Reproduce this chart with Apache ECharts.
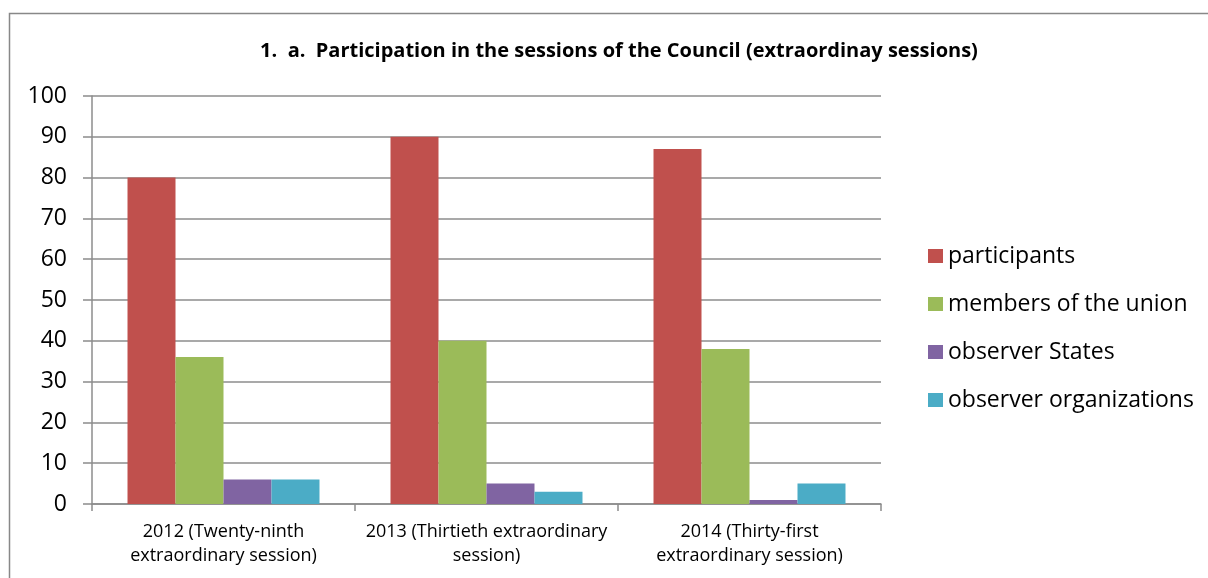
<!DOCTYPE html>
<html>
<head>
<meta charset="utf-8">
<script src="https://cdn.jsdelivr.net/npm/echarts@6/dist/echarts.min.js"></script>
<style>html,body{margin:0;padding:0;background:#fff}#c{width:1208px;height:578px}</style>
</head>
<body>
<div id="c"></div>
<script>
const categories = ["2012 (Twenty-ninth\nextraordinary session)", "2013 (Thirtieth extraordinary\nsession)", "2014 (Thirty-first\nextraordinary session)"];
const seriesNames = ["participants", "members of the union", "observer States", "observer organizations"];
const participants = [80, 90, 87];
const members = [36, 40, 38];
const observerStates = [6, 5, 1];
const observerOrgs = [6, 3, 5];
const colors = ["#C0504D", "#9BBB59", "#8064A2", "#4BACC6"];
const FONT = "'Open Sans', 'Noto Sans', sans-serif";

const chart = echarts.init(document.getElementById('c'), null, {renderer: 'canvas'});
const dataSets = [participants, members, observerStates, observerOrgs];
chart.setOption({
  animation: false,
  backgroundColor: '#fff',
  title: {
    text: '1.  a.  Participation in the sessions of the Council (extraordinay sessions)',
    left: 614, textAlign: 'center', top: 36,
    textStyle: {fontFamily: FONT, fontSize: 20, fontWeight: 'bold', color: '#000'}
  },
  legend: {
    orient: 'vertical', left: 923, top: 239,
    itemWidth: 15, itemHeight: 14, itemGap: 24,
    icon: 'rect',
    textStyle: {fontFamily: FONT, fontSize: 23, color: '#000', lineHeight: 24},
    data: seriesNames
  },
  grid: {left: 92, right: 327, top: 96, bottom: 74, containLabel: false},
  xAxis: {
    type: 'category', data: categories,
    axisLine: {lineStyle: {color: '#8c8c8c', width: 1.5}},
    axisTick: {show: true, length: 7, inside: false, lineStyle: {color: '#8c8c8c', width: 1.5}},
    axisLabel: {fontFamily: FONT, fontSize: 18, color: '#000', lineHeight: 24, margin: 16, interval: 0}
  },
  yAxis: {
    type: 'value', min: 0, max: 100, interval: 10,
    axisLine: {show: true, lineStyle: {color: '#8c8c8c', width: 1.5}},
    axisTick: {show: true, length: 9, lineStyle: {color: '#8c8c8c', width: 1.5}},
    splitLine: {lineStyle: {color: '#8c8c8c', width: 1.5}},
    axisLabel: {fontFamily: FONT, fontSize: 23, color: '#000', margin: 25}
  },
  series: seriesNames.map((n, i) => ({
    name: n, type: 'bar', data: dataSets[i],
    barGap: '0%', barCategoryGap: '27%',
    itemStyle: {color: colors[i]}
  })),
  graphic: [
    {type: 'polyline', shape: {points: [[9.5, 578], [9.5, 13.5], [1208, 13.5]]}, style: {stroke: '#888', lineWidth: 1.5, fill: null}, silent: true}
  ]
});
</script>
</body>
</html>
